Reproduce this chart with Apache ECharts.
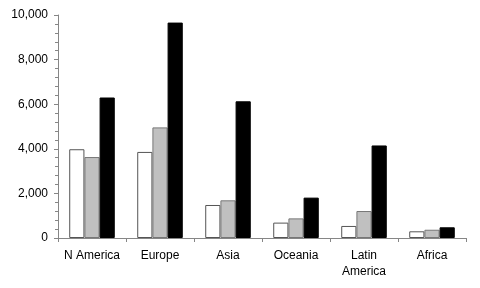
<!DOCTYPE html>
<html><head><meta charset="utf-8">
<script src="https://cdn.jsdelivr.net/npm/echarts@6/dist/echarts.min.js"></script>
<style>html,body{margin:0;padding:0;background:#fff}#c{width:480px;height:288px}</style>
</head><body><div id="c"></div>
<script>
var categories = ['N America', 'Europe', 'Asia', 'Oceania', 'Latin\nAmerica', 'Africa'];
var seriesA = [3980, 3860, 1480, 690, 540, 300];
var seriesB = [3630, 4960, 1690, 880, 1210, 370];
var seriesC = [6300, 9660, 6130, 1810, 4150, 480];
var yTicks = [0, 2000, 4000, 6000, 8000, 10000];

var font = 'Liberation Sans';
var chart = echarts.init(document.getElementById('c'), null, {renderer: 'canvas'});
function mk(data, fill, border) {
  return {type: 'bar', data: data, barGap: '0%', barCategoryGap: '33%',
    itemStyle: {color: fill, borderColor: border, borderWidth: 1}, animation: false};
}
chart.setOption({
  animation: false,
  grid: {left: 58, right: 14, top: 15, bottom: 50},
  xAxis: {type: 'category', data: categories,
    axisLine: {lineStyle: {color: '#868686'}},
    axisTick: {show: true, length: 4, alignWithLabel: false, lineStyle: {color: '#868686'}},
    axisLabel: {color: '#000', fontFamily: font, fontSize: 12, margin: 10, lineHeight: 16, interval: 0}},
  yAxis: {type: 'value', min: yTicks[0], max: yTicks[yTicks.length - 1], interval: 2000,
    splitLine: {show: false},
    axisLine: {show: true, lineStyle: {color: '#868686'}},
    axisTick: {show: true, length: 4, lineStyle: {color: '#868686'}},
    minorTick: {show: true, splitNumber: 5, length: 3, lineStyle: {color: '#868686'}},
    axisLabel: {color: '#000', fontFamily: font, fontSize: 12, margin: 10,
      formatter: function (v) { return v.toLocaleString('en-US'); }}},
  series: [mk(seriesA, '#ffffff', '#555555'), mk(seriesB, '#c0c0c0', '#777777'), mk(seriesC, '#000000', '#000000')]
});
</script></body></html>
